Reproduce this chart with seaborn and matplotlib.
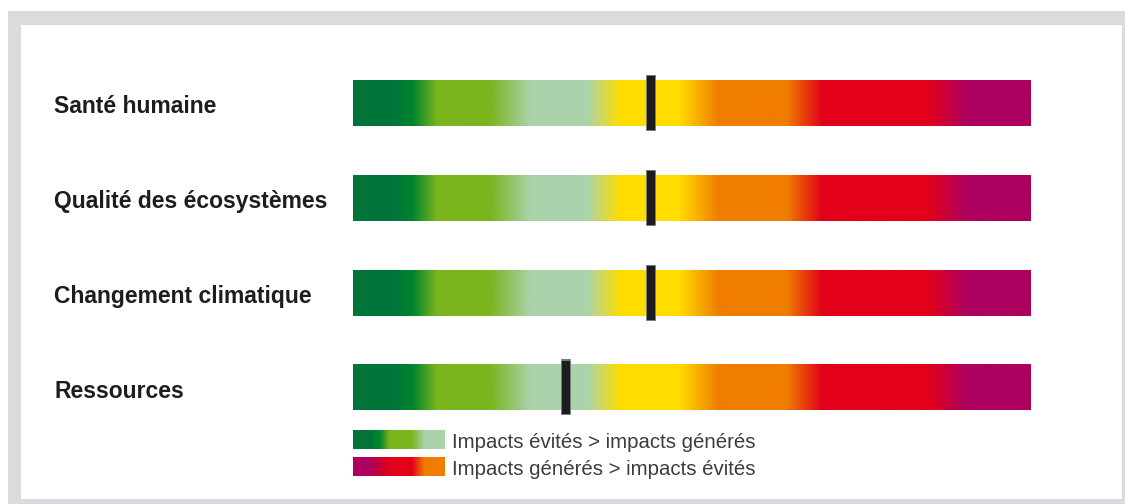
import numpy as np
import pandas as pd
import matplotlib
matplotlib.use("Agg")
import matplotlib.pyplot as plt
import seaborn as sns
from matplotlib.colors import LinearSegmentedColormap
from matplotlib.patches import Rectangle
from matplotlib.transforms import blended_transform_factory

# ---------------- data ----------------
categories = ["Santé humaine", "Qualité des écosystèmes",
              "Changement climatique", "Ressources"]
scores = [44.0, 44.0, 44.0, 31.4]          # marker position on a 0-100 scale
legend_labels = ["Impacts évités > impacts générés",
                 "Impacts générés > impacts évités"]

# gradient of the scale (position on 0-1, colour)
scale_stops = [0.0, 0.062, 0.088, 0.123, 0.202, 0.262, 0.345, 0.395,
               0.48, 0.54, 0.64, 0.692, 0.85, 0.905, 1.0]
scale_colors = ["#00753a", "#00753a", "#00852d", "#7ab51d", "#7ab51d",
                "#abd3ab", "#abd3ab", "#ffdd00", "#ffdd00", "#ef7d00",
                "#ef7d00", "#e2001a", "#e2001a", "#ad005f", "#ad005f"]
legend_stops = [0.0, 0.2, 0.24, 0.29, 0.40, 0.64, 0.78, 1.0]
legend_green = ["#00753a", "#00753a", "#00852d", "#00852d", "#7ab51d",
                "#7ab51d", "#abd3ab", "#abd3ab"]
legend_red = ["#ad005f", "#ad005f", "#b8004a", "#c80035", "#e2001a",
              "#e2001a", "#ef7d00", "#ef7d00"]

df = pd.DataFrame({"categorie": categories, "score": scores})

# ---------------- style ----------------
sns.set_theme(style="white")
plt.rcParams["font.family"] = ["Liberation Sans", "DejaVu Sans"]

W, H = 1125, 504
fig = plt.figure(figsize=(W / 100, H / 100), dpi=100)
fig.patch.set_facecolor("white")

# frame (drawn behind everything)
fig.patches.append(Rectangle((8 / W, 0), 1 - 8 / W, 1 - 11 / H,
                             transform=fig.transFigure, facecolor="#dadbdc",
                             edgecolor="none", zorder=-20))
fig.patches.append(Rectangle((21 / W, 5 / H), (1122 - 21) / W, (499 - 25) / H,
                             transform=fig.transFigure, facecolor="white",
                             edgecolor="none", zorder=-19))

# main axes : x covers the bar (353 -> 1031 px), y covers whole figure
ax = fig.add_axes([353 / W, 0, (1031 - 353) / W, 1])
ax.patch.set_alpha(0)
ax.set_zorder(1)
row_px = 94.83
first_px = 103.0

cmap = LinearSegmentedColormap.from_list("scale", list(zip(scale_stops, scale_colors)), N=1024)
grad = np.linspace(0, 1, 1024)[None, :]
bar_h = 46 / row_px
mark_h = 56 / row_px

for i, row in df.iterrows():
    ax.imshow(grad, cmap=cmap, aspect="auto", interpolation="bilinear",
              extent=(0, 100, i + bar_h / 2, i - bar_h / 2), zorder=1)

ypos = np.arange(len(df))
ax.vlines(df["score"], ypos - mark_h / 2, ypos + mark_h / 2,
          colors="#7a7a7a", linewidth=7.0, capstyle="butt", zorder=3)
ax.vlines(df["score"], ypos - mark_h / 2 + 0.012, ypos + mark_h / 2 - 0.012,
          colors="#1c1b1f", linewidth=5.9, capstyle="butt", zorder=4)

ax.set_xlim(0, 100)
ax.set_ylim((H - first_px) / row_px, -first_px / row_px)
ax.axis("off")

# category labels
tr = blended_transform_factory(fig.transFigure, ax.transData)
for i, lab in enumerate(df["categorie"]):
    ax.text(54 / W, i + 10.2 / row_px, lab, transform=tr, ha="left",
            va="baseline", fontsize=16.5, fontweight="bold", color="#1d1d1b",
            clip_on=False)

# legend
for k, (cols, lab) in enumerate(zip([legend_green, legend_red], legend_labels)):
    top = 430 + k * 26.8
    lax = fig.add_axes([353 / W, 1 - (top + 19) / H, 92 / W, 19 / H])
    lax.set_zorder(1)
    lcmap = LinearSegmentedColormap.from_list(f"leg{k}", list(zip(legend_stops, cols)), N=512)
    lax.imshow(np.linspace(0, 1, 512)[None, :], cmap=lcmap, aspect="auto",
               interpolation="bilinear")
    lax.axis("off")
    fig.text(452 / W, 1 - (top + 18.5) / H, lab, ha="left", va="baseline",
             fontsize=14.7, color="#3c3c3b")

fig.savefig("out.png", dpi=100)
